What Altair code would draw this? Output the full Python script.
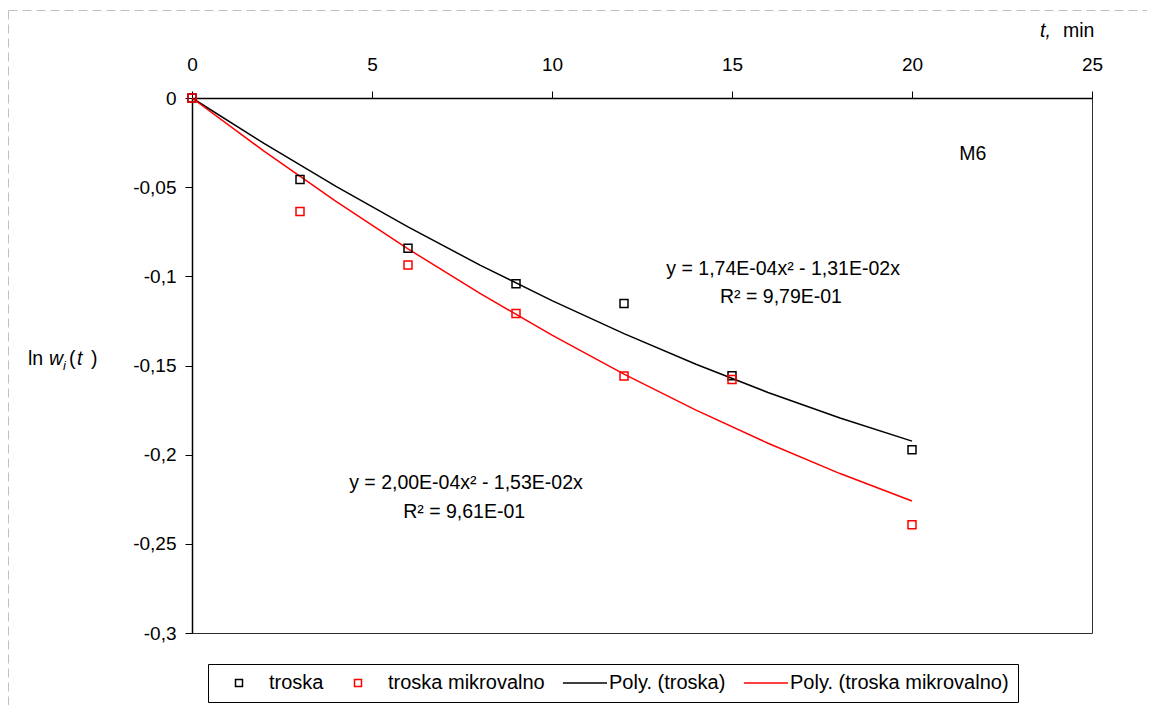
import altair as alt
import pandas as pd

FONT = "Liberation Sans"

# ---- data ----
t_obs = [0, 3, 6, 9, 12, 15, 20]
ln_troska = [0.0, -0.0457, -0.0843, -0.1042, -0.1153, -0.1557, -0.1972]
ln_mikro = [0.0, -0.0636, -0.0936, -0.1208, -0.1559, -0.1578, -0.2393]

# trend lines (Poly.)
t_fit = [0, 2, 4, 6, 8, 10, 12, 14, 16, 18, 20]
fit_troska = [0.0, -0.0255, -0.0496, -0.0723, -0.0937, -0.1136, -0.1321, -0.1493, -0.1651, -0.1794, -0.1924]
fit_mikro = [0.0, -0.0298, -0.0580, -0.0846, -0.1096, -0.1330, -0.1548, -0.1750, -0.1936, -0.2106, -0.2260]

series = ["troska", "troska mikrovalno", "Poly. (troska)", "Poly. (troska mikrovalno)"]
series_colors = ["#000000", "#ff0000", "#000000", "#ff0000"]
LINE_PATH = "M-4.6,0L8,0"
series_shapes = ["square", "square", LINE_PATH, LINE_PATH]

x_ticks = [0, 5, 10, 15, 20, 25]
y_ticks = [0, -0.05, -0.1, -0.15, -0.2, -0.25, -0.3]

ann_text = ["y = 1,74E-04x² - 1,31E-02x", "R² = 9,79E-01",
            "y = 2,00E-04x² - 1,53E-02x", "R² = 9,61E-01", "M6"]
ann_t = [16.42, 16.36, 7.61, 7.56, 21.69]
ann_v = [-0.0993, -0.1150, -0.2193, -0.2355, -0.0348]

# ---- tables ----
pts = pd.DataFrame({
    "t": t_obs + t_obs,
    "v": ln_troska + ln_mikro,
    "s": [series[0]] * len(t_obs) + [series[1]] * len(t_obs),
})
fits = pd.DataFrame({
    "t": t_fit + t_fit,
    "v": fit_troska + fit_mikro,
    "s": [series[2]] * len(t_fit) + [series[3]] * len(t_fit),
})
ann = pd.DataFrame({"txt": ann_text, "t": ann_t, "v": ann_v})

xscale = alt.Scale(domain=[0, 25], nice=False, zero=False)
yscale = alt.Scale(domain=[-0.3, 0], nice=False, zero=False)

x_axis = alt.Axis(orient="top", values=x_ticks, title=None, grid=False,
                  labelFlush=False, labelOverlap=False, tickSize=7,
                  labelPadding=17, domainWidth=1.5,
                  labelFont=FONT, labelFontSize=19, labelColor="#000000",
                  domainColor="#000000", tickColor="#000000")
y_axis = alt.Axis(values=y_ticks, title=None, grid=False, tickSize=7,
                  labelPadding=9, labelFlush=False, labelOverlap=False,
                  labelExpr="replace(toString(datum.value), '.', ',')",
                  domainWidth=1.5,
                  labelFont=FONT, labelFontSize=19, labelColor="#000000",
                  domainColor="#000000", tickColor="#000000")

leg = alt.Legend(title=None, orient="none", legendX=16, legendY=566,
                 direction="horizontal", strokeColor="#000000",
                 fillColor="#ffffff", padding=9, labelFont=FONT,
                 labelFontSize=20, labelColor="#000000", symbolSize=49,
                 symbolStrokeWidth=1.5, symbolOffset=12, labelOffset=20,
                 columnPadding=12, labelLimit=400,
                 symbolFillColor="transparent")

color = alt.Color("s:N", scale=alt.Scale(domain=series, range=series_colors), legend=leg)
shape = alt.Shape("s:N", scale=alt.Scale(domain=series, range=series_shapes), legend=leg)

lines = alt.Chart(fits).mark_line(strokeWidth=1.5).encode(
    x=alt.X("t:Q", scale=xscale, axis=x_axis),
    y=alt.Y("v:Q", scale=yscale, axis=y_axis),
    color=color,
    detail="s:N",
)

points = alt.Chart(pts).mark_point(filled=False, size=64, strokeWidth=1.5, opacity=1).encode(
    x=alt.X("t:Q", scale=xscale),
    y=alt.Y("v:Q", scale=yscale),
    color=color,
    shape=shape,
)

labels = alt.Chart(ann).mark_text(font=FONT, fontSize=19.5, align="center",
                                  baseline="alphabetic", color="#000000").encode(
    x=alt.X("t:Q", scale=xscale),
    y=alt.Y("v:Q", scale=yscale),
    text="txt:N",
)

# axis titles built from text pieces (pixel offsets from plot origin)
normal_parts = pd.DataFrame({"txt": ["ln", "(", ")", "min"],
                             "px": [-164, -123, -101, 871],
                             "py": [267, 267, 267, -61]})
italic_parts = pd.DataFrame({"txt": ["w", "t", "t,"],
                             "px": [-143, -115, 848],
                             "py": [267, 267, -61]})
sub_parts = pd.DataFrame({"txt": ["i"], "px": [-129], "py": [272]})


def part_layer(df, style, size):
    return alt.Chart(df).mark_text(font=FONT, fontSize=size, fontStyle=style,
                                   align="left", baseline="alphabetic",
                                   color="#000000").encode(
        x=alt.X("px:Q", scale=None),
        y=alt.Y("py:Q", scale=None),
        text="txt:N",
    )


t_normal = part_layer(normal_parts, "normal", 19.5)
t_italic = part_layer(italic_parts, "italic", 19.5)
t_sub = part_layer(sub_parts, "italic", 13)

# dashed chart-area border (top and left edges visible)
one = alt.Data(values=[{"k": 1}])
border_top = alt.Chart(one).mark_rule(color="#c0c0c0", strokeDash=[9, 5], strokeWidth=1).encode(
    x=alt.value(-183.5), x2=alt.value(975), y=alt.value(-87.5))
border_left = alt.Chart(one).mark_rule(color="#c0c0c0", strokeDash=[9, 5], strokeWidth=1).encode(
    x=alt.value(-183.5), y=alt.value(-87.5), y2=alt.value(620))

chart = alt.layer(
    border_top, border_left, lines, points, labels, t_normal, t_italic, t_sub
).properties(
    width=900, height=535,
    autosize="none",
    background="#ffffff",
    padding={"left": 184, "top": 90, "right": 55, "bottom": 72},
).configure_view(
    stroke="#303030", strokeWidth=1
)

chart.save("out.html", embed_options={"renderer": "svg", "actions": False})
